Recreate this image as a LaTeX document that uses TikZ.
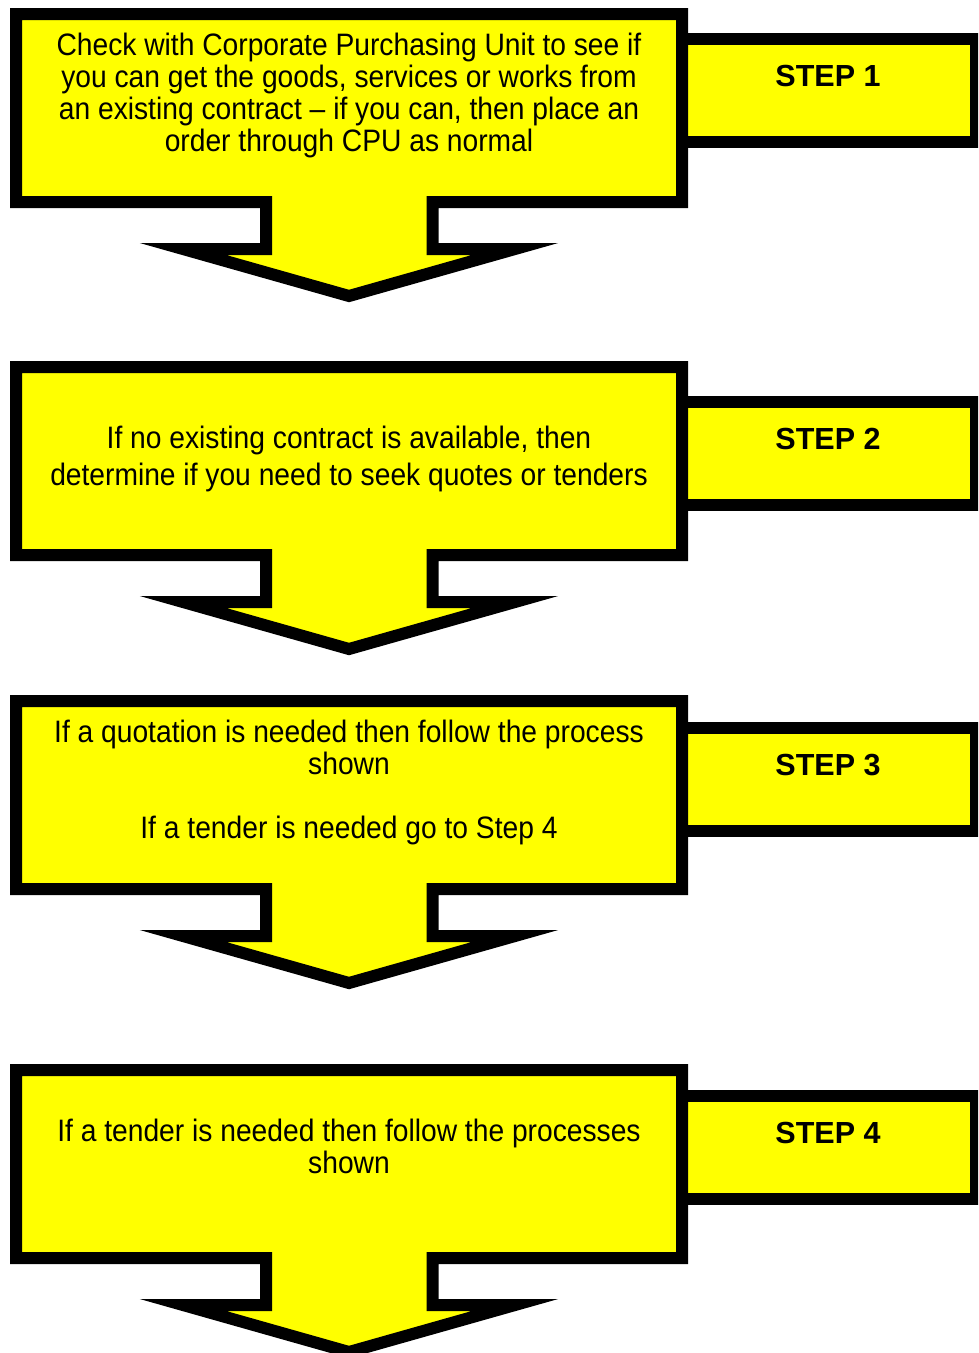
\documentclass[tikz,border=0pt]{standalone}
\usepackage{fontspec}
\newfontfamily\bodyfont[FakeStretch=0.91]{Liberation Sans}
\newfontfamily\labelfont{Liberation Sans}
\definecolor{stepyellow}{RGB}{255,255,0}
\tikzset{
  outline/.style={fill=stepyellow, draw=black, line width=12pt, line join=miter, miter limit=10},
  % multi-line texts are anchored at the baseline of their last line
  bodytext/.style={font=\fontsize{31}{32}\bodyfont, align=center, anchor=base, inner sep=0pt},
  steplabel/.style={font=\fontsize{30.5}{36}\labelfont\bfseries, anchor=base, inner sep=0pt},
}
% #1: top edge of the main panel, #2: top edge of the side tab
\newcommand\stepblock[2]{%
  \path[outline] (682,#2) rectangle (976,#2+103);
  \path[outline] (16,#1) -- (682,#1) -- (682,#1+188) -- (432.5,#1+188)
    -- (432.5,#1+235) -- (515,#1+235) -- (349,#1+282) -- (183,#1+235)
    -- (266,#1+235) -- (266,#1+188) -- (16,#1+188) -- cycle;
}
\begin{document}
\begin{tikzpicture}[x=1pt, y=-1pt]
  \useasboundingbox (0,0) rectangle (978,1353);
  \clip (0,0) rectangle (978,1353);

  \stepblock{14}{39}
  \stepblock{367}{402}
  \stepblock{701}{727.5}
  \stepblock{1070}{1095.5}

  \node[steplabel] (s1) at (828,86.5) {STEP 1};
  \node[steplabel] (s2) at (828,449.5) {STEP 2};
  \node[steplabel] (s3) at (828,775) {STEP 3};
  \node[steplabel] (s4) at (828,1143) {STEP 4};

  \node[bodytext] (t1) at (349,151) {Check with Corporate Purchasing Unit to see if\\
    you can get the goods, services or works from\\
    an existing contract \textendash{} if you can, then place an\\
    order through CPU as normal};
  \node[bodytext, font=\fontsize{31}{37}\bodyfont] (t2) at (349,485)
    {If no existing contract is available, then\\
     determine if you need to seek quotes or tenders};
  \node[bodytext] (t3) at (349,838.7)
    {If a quotation is needed then follow the process\\
     shown\\[32pt]
     If a tender is needed go to Step 4};
  \node[bodytext] (t4) at (349,1173.7)
    {If a tender is needed then follow the processes\\
     shown};
\end{tikzpicture}
\end{document}
